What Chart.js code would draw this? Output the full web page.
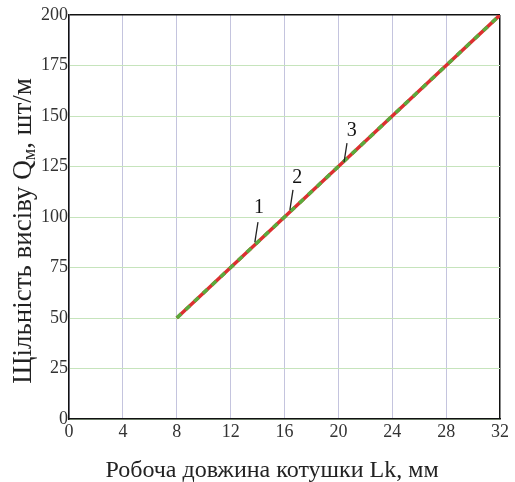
<!DOCTYPE html>
<html><head><meta charset="utf-8">
<script src="https://cdn.jsdelivr.net/npm/chart.js@4"></script>
<style>html,body{margin:0;padding:0;background:#fff}#w{width:515px;height:482px}</style>
</head><body><div id="w"><canvas id="c" width="515" height="482"></canvas></div>
<script>
const lengths = [8, 12, 16, 20, 24, 28, 32];
const density1 = [50, 75, 100, 125, 150, 175, 200];
const density2 = [50, 75, 100, 125, 150, 175, 200];
const xTicks = [0, 4, 8, 12, 16, 20, 24, 28, 32];
const yTicks = [0, 25, 50, 75, 100, 125, 150, 175, 200];
const curveLabels = ['1', '2', '3'];
const labelX = [14.1, 16.95, 21.0];
const labelY = [104.5, 119.3, 142.6];
const leaderFrom = [[14.03, 97.5], [16.63, 113.4], [20.64, 136.6]];
const leaderTo = [[13.8, 87.6], [16.4, 103.5], [20.42, 127.2]];
const xTitle = 'Робоча довжина котушки Lk, мм';
const yTitleParts = ['Щільність висіву Q', 'м', ', шт/м'];

const FONT = '"Liberation Serif", "Times New Roman", serif';

const annot = {
  id: 'annot',
  afterDatasetsDraw(chart) {
    const {ctx, scales: {x, y}} = chart;
    ctx.save();
    ctx.strokeStyle = '#222';
    ctx.lineWidth = 1.3;
    ctx.fillStyle = '#111';
    ctx.font = '20px ' + FONT;
    ctx.textAlign = 'center';
    ctx.textBaseline = 'middle';
    for (let i = 0; i < curveLabels.length; i++) {
      ctx.beginPath();
      ctx.moveTo(x.getPixelForValue(leaderFrom[i][0]), y.getPixelForValue(leaderFrom[i][1]));
      ctx.lineTo(x.getPixelForValue(leaderTo[i][0]), y.getPixelForValue(leaderTo[i][1]));
      ctx.stroke();
      ctx.fillText(curveLabels[i], x.getPixelForValue(labelX[i]), y.getPixelForValue(labelY[i]));
    }
    ctx.restore();
  },
  afterDraw(chart) {
    const ctx = chart.ctx;
    ctx.save();
    ctx.fillStyle = '#222';
    // x title
    ctx.font = '24px ' + FONT;
    ctx.textAlign = 'center';
    ctx.textBaseline = 'middle';
    ctx.fillText(xTitle, 272, 471);
    // y title with subscript
    const big = '27px ' + FONT, small = '18px ' + FONT;
    ctx.font = big; const w0 = ctx.measureText(yTitleParts[0]).width; const w2 = ctx.measureText(yTitleParts[2]).width;
    ctx.font = small; const w1 = ctx.measureText(yTitleParts[1]).width;
    const total = w0 + w1 + w2;
    ctx.translate(24, 231);
    ctx.rotate(-Math.PI / 2);
    ctx.textAlign = 'left';
    ctx.textBaseline = 'middle';
    let cx = -total / 2;
    ctx.font = big; ctx.fillText(yTitleParts[0], cx, 0); cx += w0;
    ctx.font = small; ctx.fillText(yTitleParts[1], cx, 6); cx += w1;
    ctx.font = big; ctx.fillText(yTitleParts[2], cx, 0);
    ctx.restore();
  }
};

new Chart(document.getElementById('c'), {
  type: 'scatter',
  data: {
    datasets: [
      {data: lengths.map((v, i) => ({x: v, y: density2[i]})), showLine: true, borderColor: '#5aab3c', borderWidth: 3.5, borderDash: [6, 6], pointRadius: 0, tension: 0, order: 0},
      {data: lengths.map((v, i) => ({x: v, y: density1[i]})), showLine: true, borderColor: '#dc3030', borderWidth: 3.5, pointRadius: 0, tension: 0, order: 1}
    ]
  },
  options: {
    responsive: false,
    animation: false,
    layout: {padding: {top: 15, right: 15, left: 0, bottom: 0}},
    plugins: {legend: {display: false}, tooltip: {enabled: false}},
    scales: {
      x: {
        type: 'linear', min: 0, max: 32,
        afterBuildTicks: s => { s.ticks = xTicks.map(v => ({value: v})); },
        afterFit: s => { s.height = 63; },
        border: {color: '#111', width: 1.5},
        grid: {color: c => c.tick && c.tick.value === 32 ? '#111' : '#c4c4de', lineWidth: c => c.tick && c.tick.value === 32 ? 1.5 : 1, drawTicks: false},
        ticks: {color: '#333', font: {family: FONT, size: 18}, padding: 2}
      },
      y: {
        min: 0, max: 200,
        afterBuildTicks: s => { s.ticks = yTicks.map(v => ({value: v})); },
        afterFit: s => { s.width = 69; },
        border: {color: '#111', width: 1.5},
        grid: {color: c => c.tick && c.tick.value === 200 ? '#111' : '#c6e4bc', lineWidth: c => c.tick && c.tick.value === 200 ? 1.5 : 1, drawTicks: false},
        ticks: {color: '#333', font: {family: FONT, size: 18}, padding: 1}
      }
    }
  },
  plugins: [annot]
});
</script>
</body></html>
